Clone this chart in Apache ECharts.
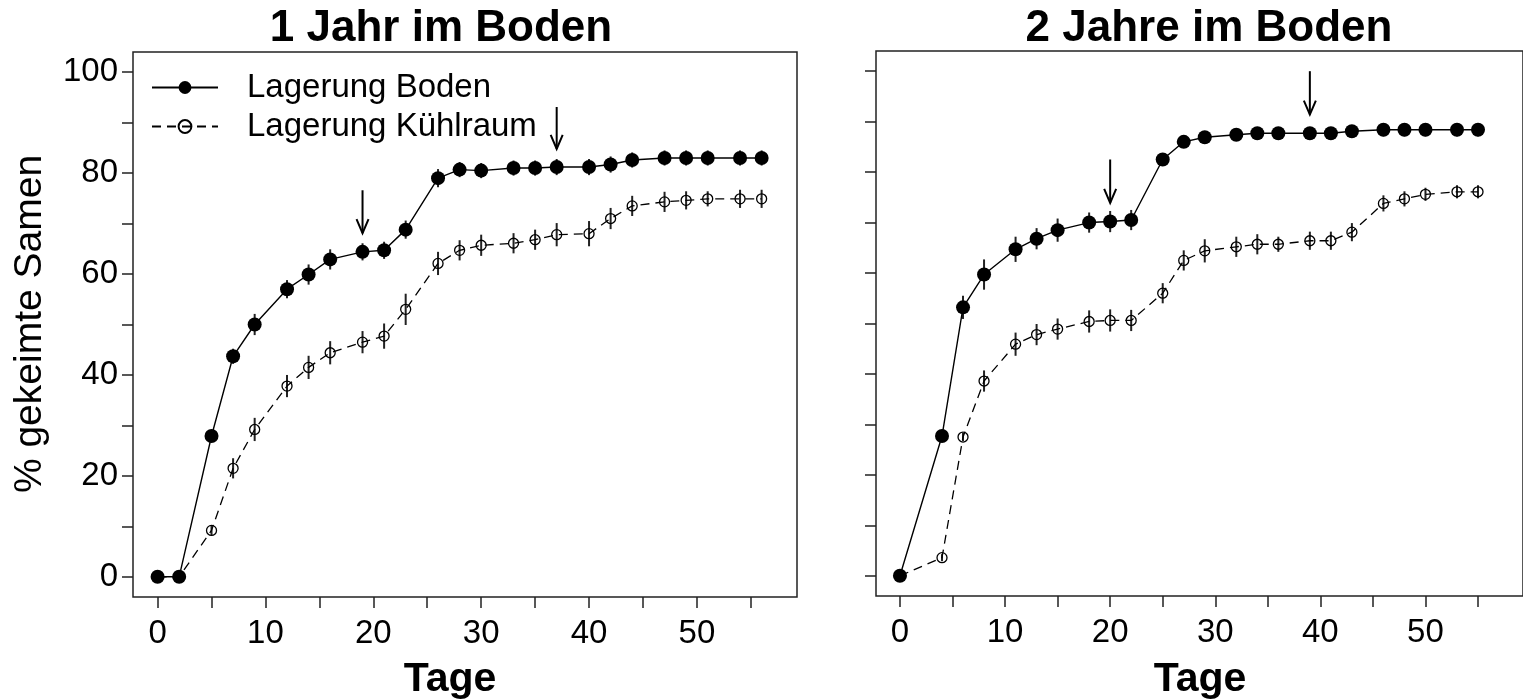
<!DOCTYPE html>
<html>
<head>
<meta charset="utf-8">
<script src="https://cdn.jsdelivr.net/npm/echarts@6/dist/echarts.min.js"></script>
<style>
html,body{margin:0;padding:0;background:#fff;}
#chart{width:1523px;height:699px;}
</style>
</head>
<body>
<div id="chart"></div>
<script>
// ---- data ----
const daysL = [0,2,5,7,9,12,14,16,19,21,23,26,28,30,33,35,37,40,42,44,47,49,51,54,56];
const bodenL = [0,0,27.9,43.7,50.0,57.0,59.9,62.9,64.4,64.7,68.8,79.0,80.7,80.5,81.0,81.0,81.2,81.2,81.7,82.6,83.0,83.0,83.0,83.0,83.0];
const bodenLerr = [0,0,1.2,1.5,2.1,1.8,2.0,2.0,1.7,1.7,1.8,1.8,1.5,1.5,1.5,1.5,1.6,1.6,1.6,1.5,1.5,1.5,1.5,1.5,1.5];
const kuehlL = [0,0,9.2,21.5,29.2,37.8,41.5,44.4,46.5,47.7,53.0,62.1,64.7,65.7,66.1,66.8,67.8,68.0,71.0,73.5,74.3,74.6,74.9,74.9,74.9];
const kuehlLerr = [0,0,1.0,2.0,2.3,2.2,2.3,2.3,2.2,2.5,3.1,2.3,2.0,2.1,2.0,2.0,2.3,2.5,2.1,2.0,2.0,1.8,1.5,1.8,1.8];

const daysR = [0,4,6,8,11,13,15,18,20,22,25,27,29,32,34,36,39,41,43,46,48,50,53,55];
const bodenR = [0,27.7,53.2,59.7,64.7,66.8,68.5,70.0,70.2,70.5,82.5,86.0,86.9,87.4,87.7,87.7,87.7,87.7,88.1,88.4,88.4,88.4,88.4,88.4];
const bodenRerr = [0,1.0,2.3,3.0,2.5,2.1,2.3,2.0,2.1,2.0,1.0,1.0,0.8,1.0,1.0,1.0,1.0,1.0,1.0,1.3,1.3,1.3,1.3,1.3];
const kuehlR = [0,3.6,27.5,38.6,45.9,47.8,48.9,50.4,50.6,50.6,56.0,62.5,64.4,65.2,65.7,65.7,66.4,66.4,68.1,73.8,74.7,75.6,76.1,76.1];
const kuehlRerr = [0,0.7,0.8,2.1,2.3,2.1,2.1,2.2,2.2,2.1,2.0,2.0,2.3,2.0,2.0,1.5,1.8,1.8,1.8,1.6,1.5,1.3,1.3,1.3];

// arrows: [day, top value, tip value]
const arrowsL = [[19, 76.6, 68.1], [37, 93.1, 84.8]];
const arrowsR = [[20, 82.5, 73.9], [39, 100.0, 91.4]];

const xTicks = [0,5,10,15,20,25,30,35,40,45,50,55];
const xLabels = [0,10,20,30,40,50];
const yTicks = [0,10,20,30,40,50,60,70,80,90,100];
const yLabels = [0,20,40,60,80,100];
const titles = ['1 Jahr im Boden', '2 Jahre im Boden'];
const names = ['Lagerung Boden', 'Lagerung Kühlraum'];

// ---- chart ----
const FONT = '"Liberation Sans", Arial, sans-serif';
const chart = echarts.init(document.getElementById('chart'), null, {renderer: 'canvas'});

const pair = (xs, ys) => xs.map((x, i) => [x, ys[i]]);
const triple = (xs, ys, es) => xs.map((x, i) => [x, ys[i], es[i]]);

function xAxisDef(idx) {
  return {
    type: 'value', gridIndex: idx, min: -2.28, max: 59.28, position: 'bottom',
    axisLine: {show: false, onZero: false},
    splitLine: {show: false},
    axisTick: {show: true, customValues: xTicks, length: 11, inside: false, lineStyle: {color: '#222', width: 1.5}},
    axisLabel: {show: true, customValues: xLabels, fontSize: 33, fontFamily: FONT, color: '#000', margin: 20}
  };
}
function yAxisDef(idx, showLabels) {
  return {
    type: 'value', gridIndex: idx, min: -4, max: 104, position: 'left',
    axisLine: {show: false, onZero: false},
    splitLine: {show: false},
    axisTick: {show: true, customValues: yTicks, length: 11, inside: false, lineStyle: {color: '#222', width: 1.5}},
    axisLabel: {show: showLabels, customValues: yLabels, fontSize: 33, fontFamily: FONT, color: '#000', margin: 15}
  };
}

function errSeries(idx, data) {
  return {
    type: 'custom', xAxisIndex: idx, yAxisIndex: idx, z: 1, silent: true,
    data: data,
    renderItem: function (params, api) {
      const x = api.value(0), y = api.value(1), e = api.value(2);
      const p1 = api.coord([x, y - e]);
      const p2 = api.coord([x, y + e]);
      return {type: 'line', shape: {x1: p1[0], y1: p1[1], x2: p2[0], y2: p2[1]},
              style: {stroke: '#222', lineWidth: 2}};
    }
  };
}
function arrowSeries(idx, data) {
  return {
    type: 'custom', xAxisIndex: idx, yAxisIndex: idx, z: 5, silent: true,
    data: data,
    renderItem: function (params, api) {
      const x = api.value(0);
      const top = api.coord([x, api.value(1)]);
      const tip = api.coord([x, api.value(2)]);
      return {type: 'group', children: [
        {type: 'line', shape: {x1: top[0], y1: top[1], x2: tip[0], y2: tip[1]}, style: {stroke: '#000', lineWidth: 2}},
        {type: 'polyline', shape: {points: [[tip[0] - 6, tip[1] - 14], [tip[0], tip[1]], [tip[0] + 6, tip[1] - 14]]},
         style: {stroke: '#000', lineWidth: 2, fill: null}}
      ]};
    }
  };
}
function lineSeries(idx, name, data, filled) {
  return {
    type: 'line', name: name, xAxisIndex: idx, yAxisIndex: idx, z: 3,
    data: data, animation: false,
    symbol: 'circle', symbolSize: filled ? 14 : 10,
    showAllSymbol: true,
    lineStyle: {color: '#000', width: filled ? 1.4 : 1.3, type: filled ? 'solid' : [9, 6]},
    itemStyle: filled ? {color: '#000', borderColor: '#000', borderWidth: 0}
                      : {color: 'rgba(0,0,0,0)', borderColor: '#000', borderWidth: 1.3},
    emphasis: {disabled: true}
  };
}

const option = {
  backgroundColor: '#fff',
  animation: false,
  textStyle: {fontFamily: FONT},
  title: [
    {text: titles[0], left: 436, top: 2, textAlign: 'center',
     textStyle: {fontSize: 44, fontWeight: 'bold', fontFamily: FONT, color: '#000'}},
    {text: titles[1], left: 1204, top: 2, textAlign: 'center',
     textStyle: {fontSize: 44, fontWeight: 'bold', fontFamily: FONT, color: '#000'}}
  ],
  legend: {
    left: 146, top: 66, orient: 'vertical',
    itemWidth: 66, itemHeight: 16, itemGap: 6,
    data: names,
    selectedMode: false,
    textStyle: {fontSize: 33, fontFamily: FONT, color: '#000', lineHeight: 33, padding: [0, 0, 0, 24]}
  },
  grid: [
    {left: 133, top: 52, width: 664, height: 545, show: true, borderColor: '#222', borderWidth: 1.5, backgroundColor: 'transparent'},
    {left: 876, top: 51, width: 663, height: 545, show: true, borderColor: '#222', borderWidth: 1.5, backgroundColor: 'transparent'}
  ],
  xAxis: [xAxisDef(0), xAxisDef(1)],
  yAxis: [yAxisDef(0, true), yAxisDef(1, false)],
  graphic: [
    {type: 'text', x: 30, y: 324, rotation: Math.PI / 2,
     style: {text: '% gekeimte Samen', font: '39px ' + FONT, fill: '#000', textAlign: 'center', textVerticalAlign: 'middle'}},
    {type: 'text', x: 450, y: 680,
     style: {text: 'Tage', font: 'bold 41px ' + FONT, fill: '#000', textAlign: 'center', textVerticalAlign: 'middle'}},
    {type: 'text', x: 1200, y: 680,
     style: {text: 'Tage', font: 'bold 41px ' + FONT, fill: '#000', textAlign: 'center', textVerticalAlign: 'middle'}}
  ],
  series: [
    errSeries(0, triple(daysL, bodenL, bodenLerr)),
    errSeries(0, triple(daysL, kuehlL, kuehlLerr)),
    lineSeries(0, names[0], pair(daysL, bodenL), true),
    lineSeries(0, names[1], pair(daysL, kuehlL), false),
    arrowSeries(0, arrowsL),
    errSeries(1, triple(daysR, bodenR, bodenRerr)),
    errSeries(1, triple(daysR, kuehlR, kuehlRerr)),
    lineSeries(1, names[0], pair(daysR, bodenR), true),
    lineSeries(1, names[1], pair(daysR, kuehlR), false),
    arrowSeries(1, arrowsR)
  ]
};
chart.setOption(option);
</script>
</body>
</html>
